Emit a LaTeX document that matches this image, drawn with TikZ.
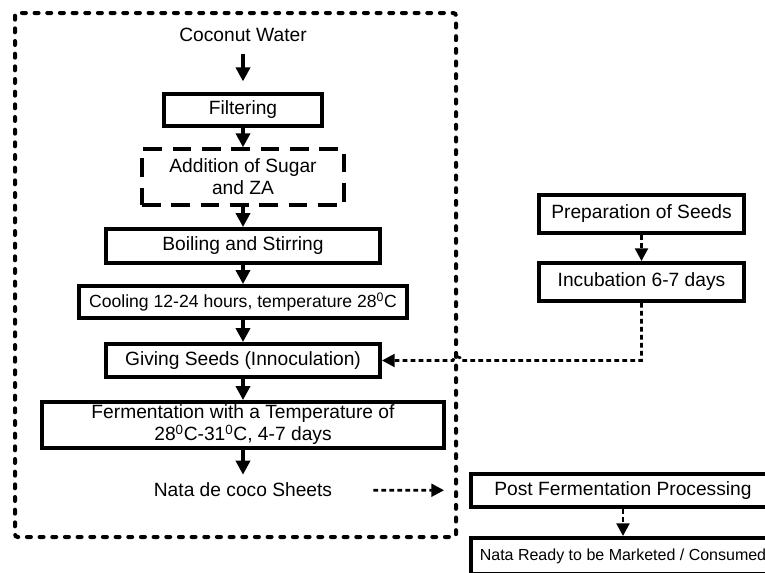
\documentclass[tikz,border=0pt]{standalone}
\usepackage{fontspec}
\setmainfont{Liberation Sans}
\usetikzlibrary{arrows.meta}
\tikzstyle{procbox}=[draw=black, line width=2.9pt, inner sep=0pt, align=center, font=\fontsize{14.4}{16.5}\selectfont]
\tikzstyle{dashbox}=[procbox, line width=2.5pt, dash pattern=on 14pt off 8pt]
\tikzstyle{plaintext}=[inner sep=6pt, font=\fontsize{14.4}{16.5}\selectfont]
\tikzstyle{arr}=[line width=2.8pt, -{Triangle[length=10.5pt,width=10.5pt]}]
\tikzstyle{darr}=[line width=2.1pt, dash pattern=on 3.5pt off 2.5pt, -{Triangle[length=9.5pt,width=9.5pt]}]
\tikzstyle{outerline}=[line width=3pt, dash pattern=on 3pt off 6.5pt, line cap=round, rounded corners=2pt]

\begin{document}
\begin{tikzpicture}[x=0.75pt, y=-0.75pt]
\useasboundingbox (0,0) rectangle (765,572);
\clip (0,0) rectangle (765,572);
\draw[outerline] (15,13) rectangle (456,537);
\node[plaintext] (water) at (243,35){Coconut Water};
\node[procbox, minimum width=118.5pt, minimum height=24pt] (filter) at (243,110){Filtering};
\node[dashbox, minimum width=151.5pt, minimum height=42pt] (sugar) at (243,177){Addition of Sugar\\and ZA};
\node[procbox, minimum width=205.5pt, minimum height=25.5pt] (boil) at (243,246){Boiling and Stirring};
\node[procbox, minimum width=246pt, minimum height=24pt, font=\fontsize{13.2}{15}\selectfont] (cool) at (243,302){Cooling 12-24 hours, temperature 28\textsuperscript{0}C};
\node[procbox, minimum width=205.5pt, minimum height=24.75pt] (seed) at (243,360.5){Giving Seeds (Innoculation)};
\node[procbox, minimum width=301.5pt, minimum height=34.5pt] (ferm) at (243,425){Fermentation with a Temperature of\\28\textsuperscript{0}C-31\textsuperscript{0}C, 4-7 days};
\node[plaintext] (sheet) at (243,490){Nata de coco Sheets};
\node[procbox, minimum width=153.75pt, minimum height=28.5pt] (prep) at (641.5,214){Preparation of Seeds};
\node[procbox, minimum width=153.75pt, minimum height=28.5pt] (incub) at (641.5,282){Incubation 6-7 days};
\node[procbox, minimum width=228pt, minimum height=24.75pt] (post) at (623,490.5){Post Fermentation Processing};
\node[procbox, minimum width=228pt, minimum height=27pt, font=\fontsize{12}{14}\selectfont] (ready) at (623,556){Nata Ready to be Marketed / Consumed};
\coordinate (hop) at (457,360.5);
\draw[arr, shorten <=3pt, shorten >=8pt](water) -- (filter);
\draw[arr](filter) -- (sugar);
\draw[arr](sugar) -- (boil);
\draw[arr](boil) -- (cool);
\draw[arr](cool) -- (seed);
\draw[arr](seed) -- (ferm);
\draw[arr](ferm) -- (sheet);
\draw[darr](prep) -- (incub);
\draw[darr](incub.south) |- ([xshift=3pt]hop) arc[start angle=0, end angle=180, radius=3pt] -- (seed.east);
\draw[darr, shorten <=24.75pt, shorten >=18.75pt](sheet) -- (post);
\draw[darr](post) -- (ready);
\end{tikzpicture}
\end{document}
